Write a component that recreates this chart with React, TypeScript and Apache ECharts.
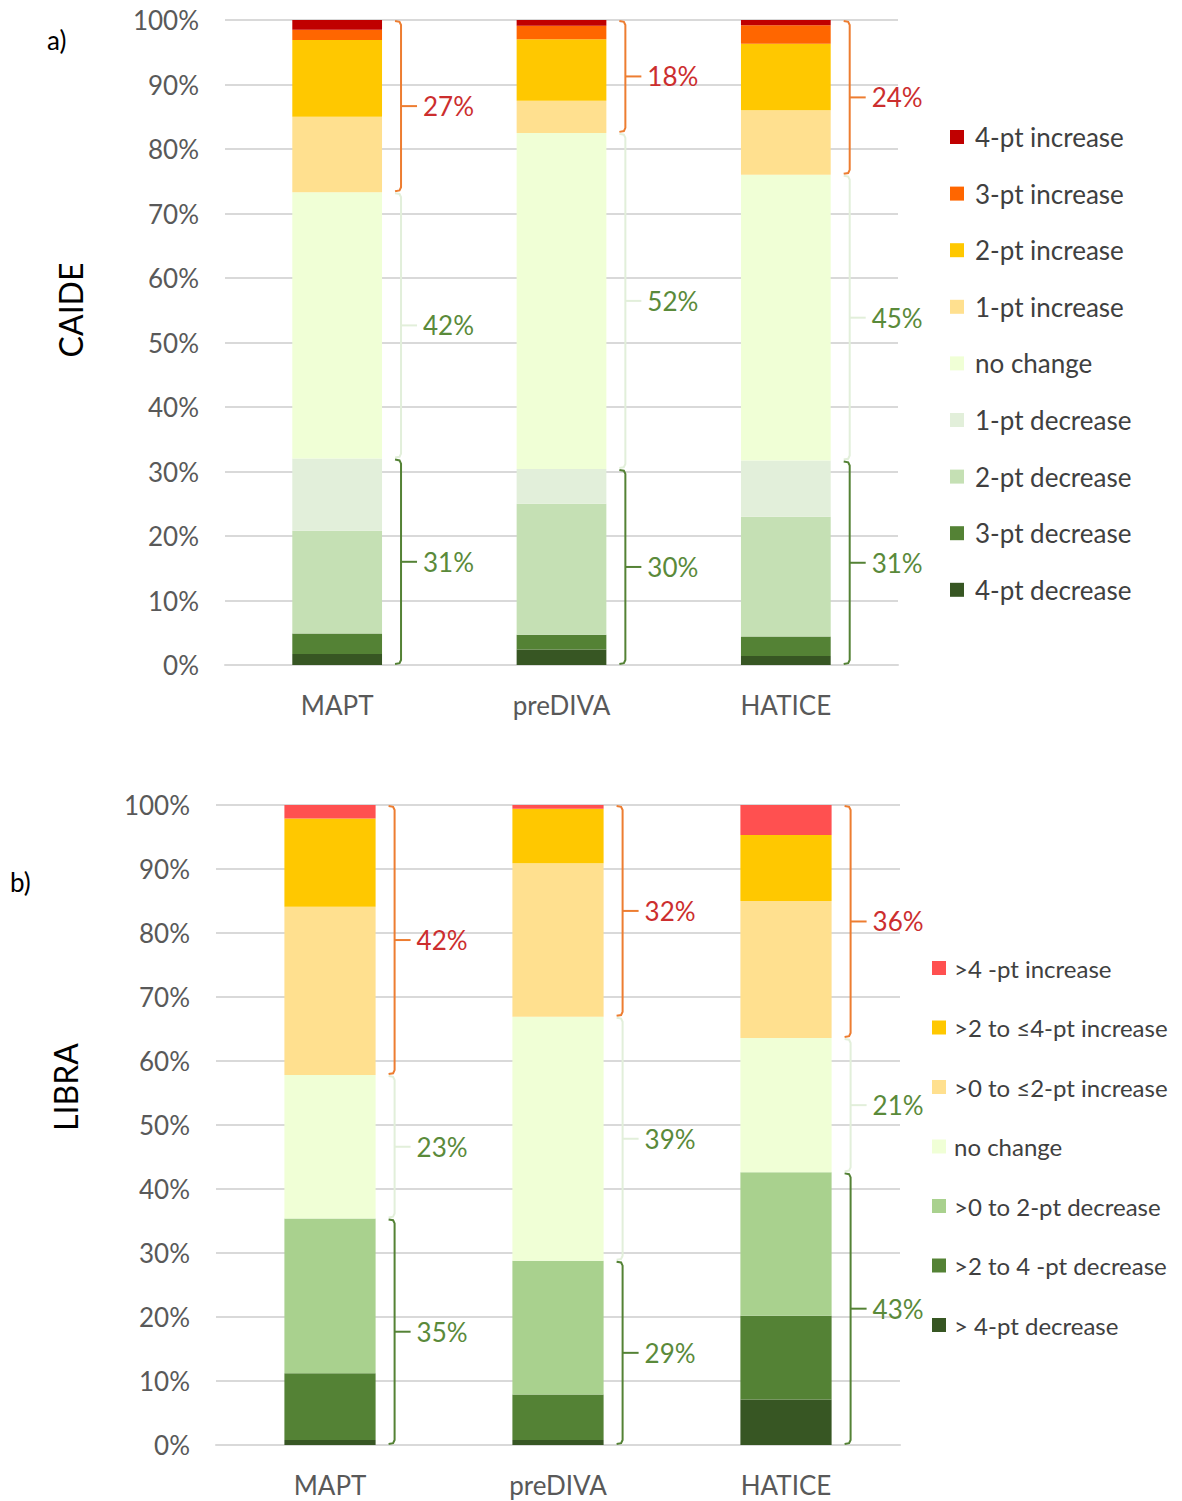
import React, { useEffect, useRef } from "react";
import * as echarts from "echarts";

const categories = ["MAPT", "preDIVA", "HATICE"];

// CAIDE (panel a), values in %, bottom to top
const caideDec4 = [1.7, 2.4, 1.4];
const caideDec3 = [3.2, 2.3, 3.0];
const caideDec2 = [15.9, 20.3, 18.6];
const caideDec1 = [11.2, 5.4, 8.7];
const caideNoChange = [41.3, 52.1, 44.3];
const caideInc1 = [11.7, 5.0, 10.0];
const caideInc2 = [11.9, 9.5, 10.3];
const caideInc3 = [1.6, 2.1, 2.9];
const caideInc4 = [1.5, 0.9, 0.8];
const caideIncLabels = ["27%", "18%", "24%"];
const caideNcLabels = ["42%", "52%", "45%"];
const caideDecLabels = ["31%", "30%", "31%"];

// LIBRA (panel b)
const libraDec4 = [0.8, 0.8, 7.1];
const libraDec2to4 = [10.4, 7.1, 13.1];
const libraDec0to2 = [24.2, 20.9, 22.4];
const libraNoChange = [22.4, 38.1, 21.0];
const libraInc0to2 = [26.3, 24.0, 21.4];
const libraInc2to4 = [13.8, 8.5, 10.3];
const libraInc4 = [2.1, 0.6, 4.7];
const libraIncLabels = ["42%", "32%", "36%"];
const libraNcLabels = ["23%", "39%", "21%"];
const libraDecLabels = ["35%", "29%", "43%"];

const yTicks = [0, 10, 20, 30, 40, 50, 60, 70, 80, 90, 100];

const FONT = "Lato, 'Open Sans', sans-serif";
const ORANGE = "#ED7D31";
const RED_TEXT = "#CC2E2E";
const GREEN = "#548235";
const GREEN_TEXT = "#5A8A3A";
const LIGHT = "#E2EFDA";

const sum = (arrs: number[][], i: number) => arrs.reduce((s, a) => s + a[i], 0);

function bracket(x: number, yb: number, yt: number, color: string, tc: string, text: string) {
  const ym = (yt + yb) / 2;
  const t = yt + 1;
  const b = yb - 1;
  return [
    {
      type: "polyline",
      shape: { points: [[x - 6, t], [x - 1.5, t + 0.8], [x, t + 4], [x, b - 4], [x - 1.5, b - 0.8], [x - 6, b]] },
      style: { stroke: color, lineWidth: 2, fill: "none" },
    },
    { type: "line", shape: { x1: x, y1: ym, x2: x + 16, y2: ym }, style: { stroke: color, lineWidth: 2 } },
    {
      type: "text",
      x: x + 22,
      y: ym,
      style: { text, fill: tc, fontSize: 26, fontFamily: FONT, verticalAlign: "middle", align: "left" },
    },
  ];
}

function makeRenderer(incL: string[], ncL: string[], decL: string[]) {
  return (params: any, api: any) => {
    const i = api.value(0);
    const decTop = api.value(1);
    const ncTop = api.value(2);
    const top = api.value(3);
    const band = api.size([1, 0])[0];
    const p0 = api.coord([i, 0]);
    const x = p0[0] + band * 0.2 + 19;
    const y0 = p0[1];
    const yDec = api.coord([i, decTop])[1];
    const yNc = api.coord([i, ncTop])[1];
    const yTop = api.coord([i, top])[1];
    const idx = params.dataIndex;
    return {
      type: "group",
      children: [
        ...bracket(x, yNc, yTop, ORANGE, RED_TEXT, incL[idx]),
        ...bracket(x, yDec, yNc, LIGHT, GREEN_TEXT, ncL[idx]),
        ...bracket(x, y0, yDec, GREEN, GREEN_TEXT, decL[idx]),
      ],
    };
  };
}

export default function App() {
  const ref = useRef<HTMLDivElement>(null);
  useEffect(() => {
    if (!ref.current) return;
    const chart = echarts.init(ref.current, null, { renderer: "svg" });

    const caideSeries = [
      { name: "4-pt decrease", data: caideDec4, color: "#375623" },
      { name: "3-pt decrease", data: caideDec3, color: "#548235" },
      { name: "2-pt decrease", data: caideDec2, color: "#C5E0B4" },
      { name: "1-pt decrease", data: caideDec1, color: "#E2EFDA" },
      { name: "no change", data: caideNoChange, color: "#F0FFD6" },
      { name: "1-pt increase", data: caideInc1, color: "#FFE08F" },
      { name: "2-pt increase", data: caideInc2, color: "#FFC800" },
      { name: "3-pt increase", data: caideInc3, color: "#FF6600" },
      { name: "4-pt increase", data: caideInc4, color: "#C00000" },
    ];
    const libraSeries = [
      { name: "> 4-pt decrease", data: libraDec4, color: "#375623" },
      { name: ">2 to 4 -pt decrease", data: libraDec2to4, color: "#548235" },
      { name: ">0 to 2-pt decrease", data: libraDec0to2, color: "#A9D18E" },
      { name: "no change ", data: libraNoChange, color: "#F0FFD6" },
      { name: ">0 to ≤2-pt increase", data: libraInc0to2, color: "#FFE08F" },
      { name: ">2 to ≤4-pt increase", data: libraInc2to4, color: "#FFC800" },
      { name: ">4 -pt increase", data: libraInc4, color: "#FF5050" },
    ];

    const caideDecArrs = [caideDec4, caideDec3, caideDec2, caideDec1];
    const caideBr = categories.map((_, i) => {
      const d = sum(caideDecArrs, i);
      const n = d + caideNoChange[i];
      const t = n + caideInc1[i] + caideInc2[i] + caideInc3[i] + caideInc4[i];
      return [i, d, n, t];
    });
    const libraDecArrs = [libraDec4, libraDec2to4, libraDec0to2];
    const libraBr = categories.map((_, i) => {
      const d = sum(libraDecArrs, i);
      const n = d + libraNoChange[i];
      const t = n + libraInc0to2[i] + libraInc2to4[i] + libraInc4[i];
      return [i, d, n, t];
    });

    const mkBars = (arr: any[], idx: number, stack: string) =>
      arr.map((s) => ({
        type: "bar",
        name: s.name,
        stack,
        xAxisIndex: idx,
        yAxisIndex: idx,
        data: s.data,
        barWidth: "40%",
        itemStyle: { color: s.color },
        emphasis: { disabled: true },
      }));

    const xAxisBase = (gridIndex: number) => ({
      type: "category",
      gridIndex,
      data: categories,
      axisLine: { show: true, lineStyle: { color: "#D9D9D9", width: 2 } },
      axisTick: { show: false },
      axisLabel: { fontSize: 26, color: "#595959", fontFamily: FONT, margin: 27 },
    });
    const yAxisBase = (gridIndex: number) => ({
      type: "value",
      gridIndex,
      min: yTicks[0],
      max: yTicks[yTicks.length - 1],
      interval: yTicks[1] - yTicks[0],
      axisLine: { show: false },
      axisTick: { show: false },
      axisLabel: { fontSize: 26, color: "#595959", fontFamily: FONT, margin: 26, formatter: "{value}%" },
      splitLine: { lineStyle: { color: "#D9D9D9", width: 2 } },
    });

    chart.setOption({
      animation: false,
      backgroundColor: "#FFFFFF",
      grid: [
        { left: 225, right: 284, top: 20, bottom: 836 },
        { left: 216, right: 282, top: 805, bottom: 56 },
      ],
      xAxis: [xAxisBase(0), xAxisBase(1)],
      yAxis: [yAxisBase(0), yAxisBase(1)],
      legend: [
        {
          orient: "vertical",
          left: 945,
          top: 118,
          icon: "rect",
          itemWidth: 14,
          itemHeight: 14,
          itemGap: 28.6,
          selectedMode: false,
          data: caideSeries.map((s) => s.name).reverse(),
          textStyle: { fontSize: 26, color: "#404040", fontFamily: FONT, lineHeight: 28, padding: [0, 0, 0, 6] },
        },
        {
          orient: "vertical",
          left: 927,
          top: 949,
          icon: "rect",
          itemWidth: 14,
          itemHeight: 14,
          itemGap: 31.5,
          selectedMode: false,
          data: libraSeries.map((s) => s.name).reverse(),
          formatter: (n: string) => n.trim(),
          textStyle: { fontSize: 24, color: "#404040", fontFamily: FONT, lineHeight: 28, padding: [0, 0, 0, 3] },
        },
      ],
      series: [
        ...mkBars(caideSeries, 0, "a"),
        ...mkBars(libraSeries, 1, "b"),
        {
          type: "custom",
          xAxisIndex: 0,
          yAxisIndex: 0,
          clip: false,
          silent: true,
          z: 10,
          data: caideBr,
          encode: { x: 0, y: [1, 2, 3] },
          renderItem: makeRenderer(caideIncLabels, caideNcLabels, caideDecLabels),
        },
        {
          type: "custom",
          xAxisIndex: 1,
          yAxisIndex: 1,
          clip: false,
          silent: true,
          z: 10,
          data: libraBr,
          encode: { x: 0, y: [1, 2, 3] },
          renderItem: makeRenderer(libraIncLabels, libraNcLabels, libraDecLabels),
        },
      ],
      graphic: [
        { type: "text", x: 47, y: 40, style: { text: "a)", fontSize: 26, fill: "#000", fontFamily: FONT, verticalAlign: "middle" } },
        { type: "text", x: 10, y: 882, style: { text: "b)", fontSize: 26, fill: "#000", fontFamily: FONT, verticalAlign: "middle" } },
        {
          type: "text",
          x: 70,
          y: 310,
          rotation: Math.PI / 2,
          style: { text: "CAIDE", fontSize: 32, fill: "#000", fontFamily: FONT, align: "center", verticalAlign: "middle" },
        },
        {
          type: "text",
          x: 65,
          y: 1087,
          rotation: Math.PI / 2,
          style: { text: "LIBRA", fontSize: 32, fill: "#000", fontFamily: FONT, align: "center", verticalAlign: "middle" },
        },
      ],
    });
    return () => chart.dispose();
  }, []);
  return <div ref={ref} style={{ position: "absolute", left: 0, top: 0, width: 1182, height: 1501 }} />;
}
